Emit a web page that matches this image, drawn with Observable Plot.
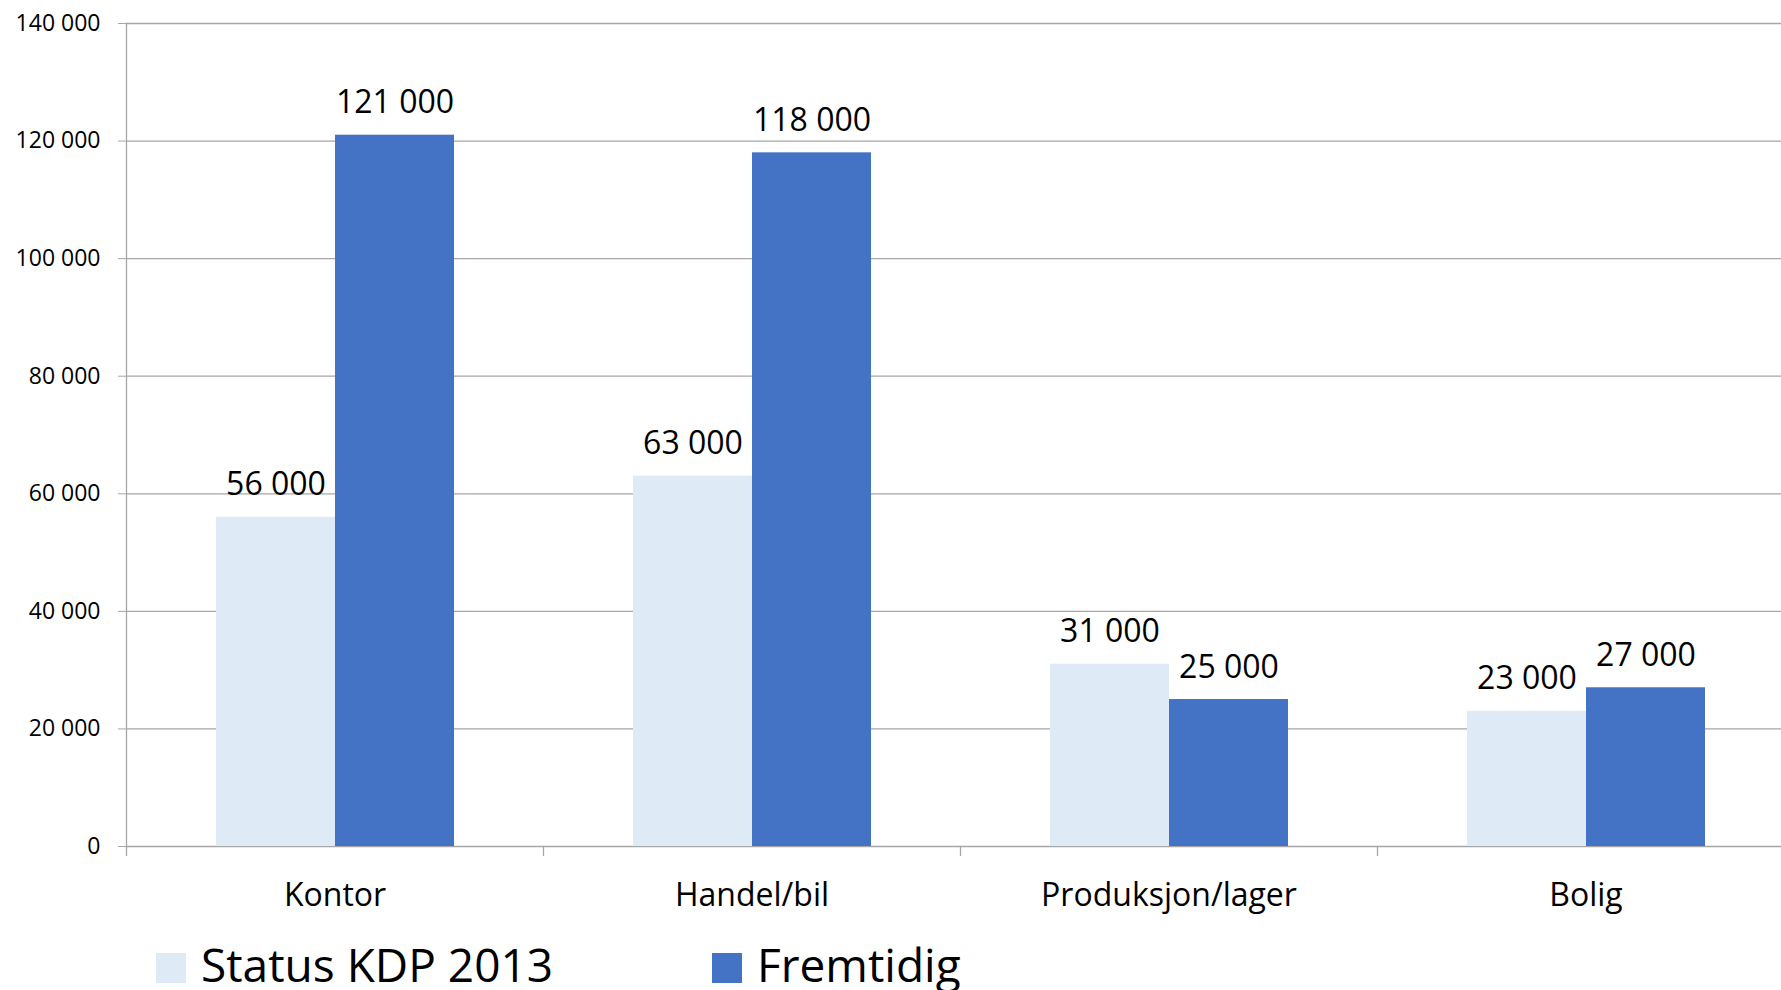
<!DOCTYPE html>
<html>
<head>
<meta charset="utf-8">
<script src="https://cdn.jsdelivr.net/npm/d3@7"></script>
<script src="https://cdn.jsdelivr.net/npm/@observablehq/plot@0.6"></script>
<style>
  html, body { margin: 0; padding: 0; background: #fff; overflow: hidden; }
  #wrap { position: relative; width: 1781px; height: 990px; overflow: hidden; font-family: "Open Sans", sans-serif; }
  #chart svg { display: block; max-width: none !important; }
  #legend { position: absolute; left: 156px; top: 941px; display: flex; align-items: flex-start; font-size: 46px; line-height: 46px; color: #000; white-space: nowrap; }
  .item { display: flex; align-items: flex-start; }
  .item:first-child { width: 556px; }
  .swatch { width: 30px; height: 30px; margin-top: 12px; margin-right: 15px; }
</style>
</head>
<body>
<div id="wrap">
  <div id="chart"></div>
  <div id="legend"></div>
</div>
<script>
// Floor area per category (m²): today's status vs. future
const categories = ["Kontor", "Handel/bil", "Produksjon/lager", "Bolig"];
const series = ["Status KDP 2013", "Fremtidig"];
const statusValues = [56000, 63000, 31000, 23000];
const futureValues = [121000, 118000, 25000, 27000];
const yTicks = [0, 20000, 40000, 60000, 80000, 100000, 120000, 140000];
const colors = ["#DEEAF6", "#4472C4"];

// Norwegian-style number formatting: space as thousands separator
const nb = d3.formatLocale({decimal: ",", thousands: " ", grouping: [3], currency: ["", " kr"]});
const fmt = nb.format(",");

const rows = categories.flatMap((c, i) => [
  {category: c, series: series[0], value: statusValues[i]},
  {category: c, series: series[1], value: futureValues[i]}
]);

const gridColor = "#a6a6a6";

// Short tick pointing downward from each category's lower-left corner
const downTick = {draw(context, l) { context.moveTo(0, 0); context.lineTo(0, -l); }};

const chart = Plot.plot({
  width: 1794,
  height: 940,
  marginLeft: 126,
  marginRight: 0,
  marginTop: 23,
  marginBottom: 94,
  style: {fontFamily: "Open Sans, sans-serif", color: "#000", background: "#fff", maxWidth: "none"},
  fx: {domain: categories, padding: 0, label: null},
  x: {domain: series, paddingInner: 0, paddingOuter: 0.752, axis: null},
  y: {domain: [0, 140000], axis: null},
  color: {domain: series, range: colors},
  marks: [
    Plot.gridY(yTicks, {stroke: gridColor, strokeOpacity: 1, strokeWidth: 1.3}),
    Plot.barY(rows, {fx: "category", x: "series", y: "value", fill: "series"}),
    Plot.text(rows, {
      fx: "category", x: "series", y: "value",
      text: d => fmt(d.value),
      lineAnchor: "bottom", dy: -22, fontSize: 32, fill: "#000"
    }),
    Plot.frame({anchor: "left", facetAnchor: "left", stroke: gridColor, strokeWidth: 1.3}),
    Plot.vector(categories, {
      fx: d => d, frameAnchor: "bottom-left", length: 9, rotate: 180,
      anchor: "start", shape: downTick, stroke: gridColor, strokeWidth: 1.3
    }),
    Plot.axisY(yTicks, {
      tickFormat: fmt, tickSize: 8, tickPadding: 18, fontSize: 23,
      stroke: gridColor, strokeOpacity: 1, label: null, fill: "#000"
    }),
    Plot.axisFx({anchor: "bottom", tickSize: 0, tickPadding: 37, fontSize: 32, label: null, fill: "#000"})
  ]
});
document.getElementById("chart").appendChild(chart);

// Legend below the chart
const legend = document.getElementById("legend");
series.forEach((s, i) => {
  const item = document.createElement("div");
  item.className = "item";
  const sw = document.createElement("div");
  sw.className = "swatch";
  sw.style.background = colors[i];
  const label = document.createElement("span");
  label.textContent = s;
  item.appendChild(sw);
  item.appendChild(label);
  legend.appendChild(item);
});
</script>
</body>
</html>
